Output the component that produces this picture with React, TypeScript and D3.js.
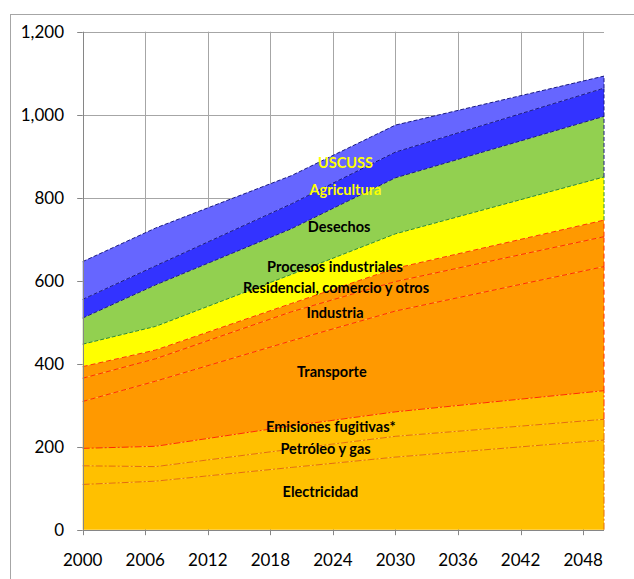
import React from "react";
import * as d3 from "d3";

const years = [2000, 2007, 2020, 2030, 2050];

const seriesNames = [
  "Electricidad",
  "Petróleo y gas",
  "Emisiones fugitivas*",
  "Transporte",
  "Industria",
  "Residencial, comercio y otros",
  "Procesos industriales",
  "Desechos",
  "Agricultura",
  "USCUSS",
];

const electricidad = [109, 117, 150, 175, 216];
const petroleo = [45, 35, 44, 50, 50];
const fugitivas = [42, 49, 56, 59, 69];
const transporte = [113, 157, 205, 243, 299];
const industria = [56, 54, 70, 71, 72];
const residencial = [28, 21, 20, 32, 40];
const procesos = [54, 57, 70, 83, 104];
const desechos = [63, 100, 110, 135, 146];
const agricultura = [45, 46, 60, 62, 68];
const uscuss = [91, 91, 68, 65, 29];

const seriesValues = [
  electricidad,
  petroleo,
  fugitivas,
  transporte,
  industria,
  residencial,
  procesos,
  desechos,
  agricultura,
  uscuss,
];

const yTicks = [0, 200, 400, 600, 800, 1000, 1200];
const xTicks = [2000, 2006, 2012, 2018, 2024, 2030, 2036, 2042, 2048];

// label anchors in data units: [year, value]
const labelYears = [2022.8, 2023.3, 2023.8, 2023.9, 2024.2, 2024.3, 2024.2, 2024.6, 2025.2, 2025.2];
const labelValues = [92, 194, 248, 381, 522, 583, 634, 729, 819, 883];

const fills = [
  "#FFC000", "#FFC000", "#FFC000",
  "#FF9900", "#FF9900", "#FF9900",
  "#FFFF00", "#92D050", "#3333FF", "#6666FF",
];
const strokes = [
  "#E46C0A", "#E46C0A", "#FF2A00",
  "#FF2A00", "#FF2A00", "#FF3300",
  "#2E8B2E", "#1A1A80", "#1A1A80", "#1A1A80",
];
const dashes = [
  "7 2 2 2", "7 2 2 2", "7 2 2 2",
  "5 3", "5 3", "5 3",
  "4 2", "4 2", "4 2", "4 2",
];
const labelColors = [
  "#000", "#000", "#000", "#000", "#000", "#000", "#000", "#000", "#FFFF00", "#FFFF00",
];

const W = 634;
const H = 579;
const plot = { left: 82.7, right: 604, top: 31.7, bottom: 529.7 };
const FONT = "Lato, 'Open Sans', sans-serif";

export default function App() {
  const x = d3.scaleLinear().domain([2000, 2050]).range([plot.left, plot.right]);
  const y = d3.scaleLinear().domain([0, 1200]).range([plot.bottom, plot.top]);

  const table = years.map((yr, i) => {
    const row: Record<string, number> = { year: yr };
    seriesNames.forEach((n, k) => (row[n] = seriesValues[k][i]));
    return row;
  });
  const stacked = d3.stack<Record<string, number>>().keys(seriesNames)(table);

  const area = d3
    .area<any>()
    .x((d) => x(d.data.year))
    .y0((d) => y(d[0]))
    .y1((d) => y(d[1]));
  const topLine = d3
    .line<any>()
    .x((d) => x(d.data.year))
    .y((d) => y(d[1]));

  const fmt = d3.format(",");
  const lastYear = years[years.length - 1];

  return (
    <svg
      width={W}
      height={H}
      style={{ position: "absolute", left: 0, top: 0, background: "#fff" }}
    >
      <rect x={10.5} y={14.5} width={700} height={700} fill="#fff" stroke="#A6A6A6" strokeWidth={1} />
      {/* gridlines */}
      {yTicks.slice(1).map((t) => (
        <line key={"gy" + t} x1={plot.left} x2={plot.right} y1={Math.round(y(t)) + 0.5} y2={Math.round(y(t)) + 0.5} stroke="#A6A6A6" />
      ))}
      {xTicks.slice(1).map((t) => (
        <line key={"gx" + t} x1={Math.round(x(t)) + 0.5} x2={Math.round(x(t)) + 0.5} y1={plot.top} y2={plot.bottom} stroke="#A6A6A6" />
      ))}
      {/* areas */}
      {stacked.map((s, i) => (
        <path key={"a" + i} d={area(s as any) || ""} fill={fills[i]} stroke="none" />
      ))}
      {/* boundary lines */}
      {stacked.map((s, i) => {
        const last = s[s.length - 1];
        return (
          <g key={"l" + i} fill="none" stroke={strokes[i]} strokeWidth={1} strokeDasharray={dashes[i]}>
            <path d={topLine(s as any) || ""} />
            <line x1={x(lastYear)} x2={x(lastYear)} y1={y(last[0])} y2={y(last[1])} />
          </g>
        );
      })}
      {/* axes */}
      <line x1={Math.round(plot.left) + 0.5} x2={Math.round(plot.left) + 0.5} y1={plot.top} y2={plot.bottom} stroke="#868686" />
      <line x1={plot.left} x2={plot.right} y1={Math.round(plot.bottom) + 0.5} y2={Math.round(plot.bottom) + 0.5} stroke="#868686" />
      {yTicks.map((t) => (
        <g key={"yt" + t}>
          <line x1={plot.left - 5.5} x2={plot.left} y1={Math.round(y(t)) + 0.5} y2={Math.round(y(t)) + 0.5} stroke="#868686" />
          <text x={64} y={y(t)} dy="0.35em" textAnchor="end" fontFamily={FONT} fontSize={17} fill="#000">
            {fmt(t)}
          </text>
        </g>
      ))}
      {xTicks.map((t) => (
        <g key={"xt" + t}>
          <line x1={Math.round(x(t)) + 0.5} x2={Math.round(x(t)) + 0.5} y1={plot.bottom} y2={plot.bottom + 5.5} stroke="#868686" />
          <text x={x(t)} y={560} dy="0.35em" textAnchor="middle" fontFamily={FONT} fontSize={17} fill="#000">
            {t}
          </text>
        </g>
      ))}
      {/* labels */}
      {seriesNames.map((n, i) => (
        <text
          key={"lb" + i}
          x={x(labelYears[i])}
          y={y(labelValues[i])}
          dy="0.35em"
          textAnchor="middle"
          fontFamily={FONT}
          fontWeight="bold"
          fontSize={14.5}
          fill={labelColors[i]}
        >
          {n}
        </text>
      ))}
    </svg>
  );
}
